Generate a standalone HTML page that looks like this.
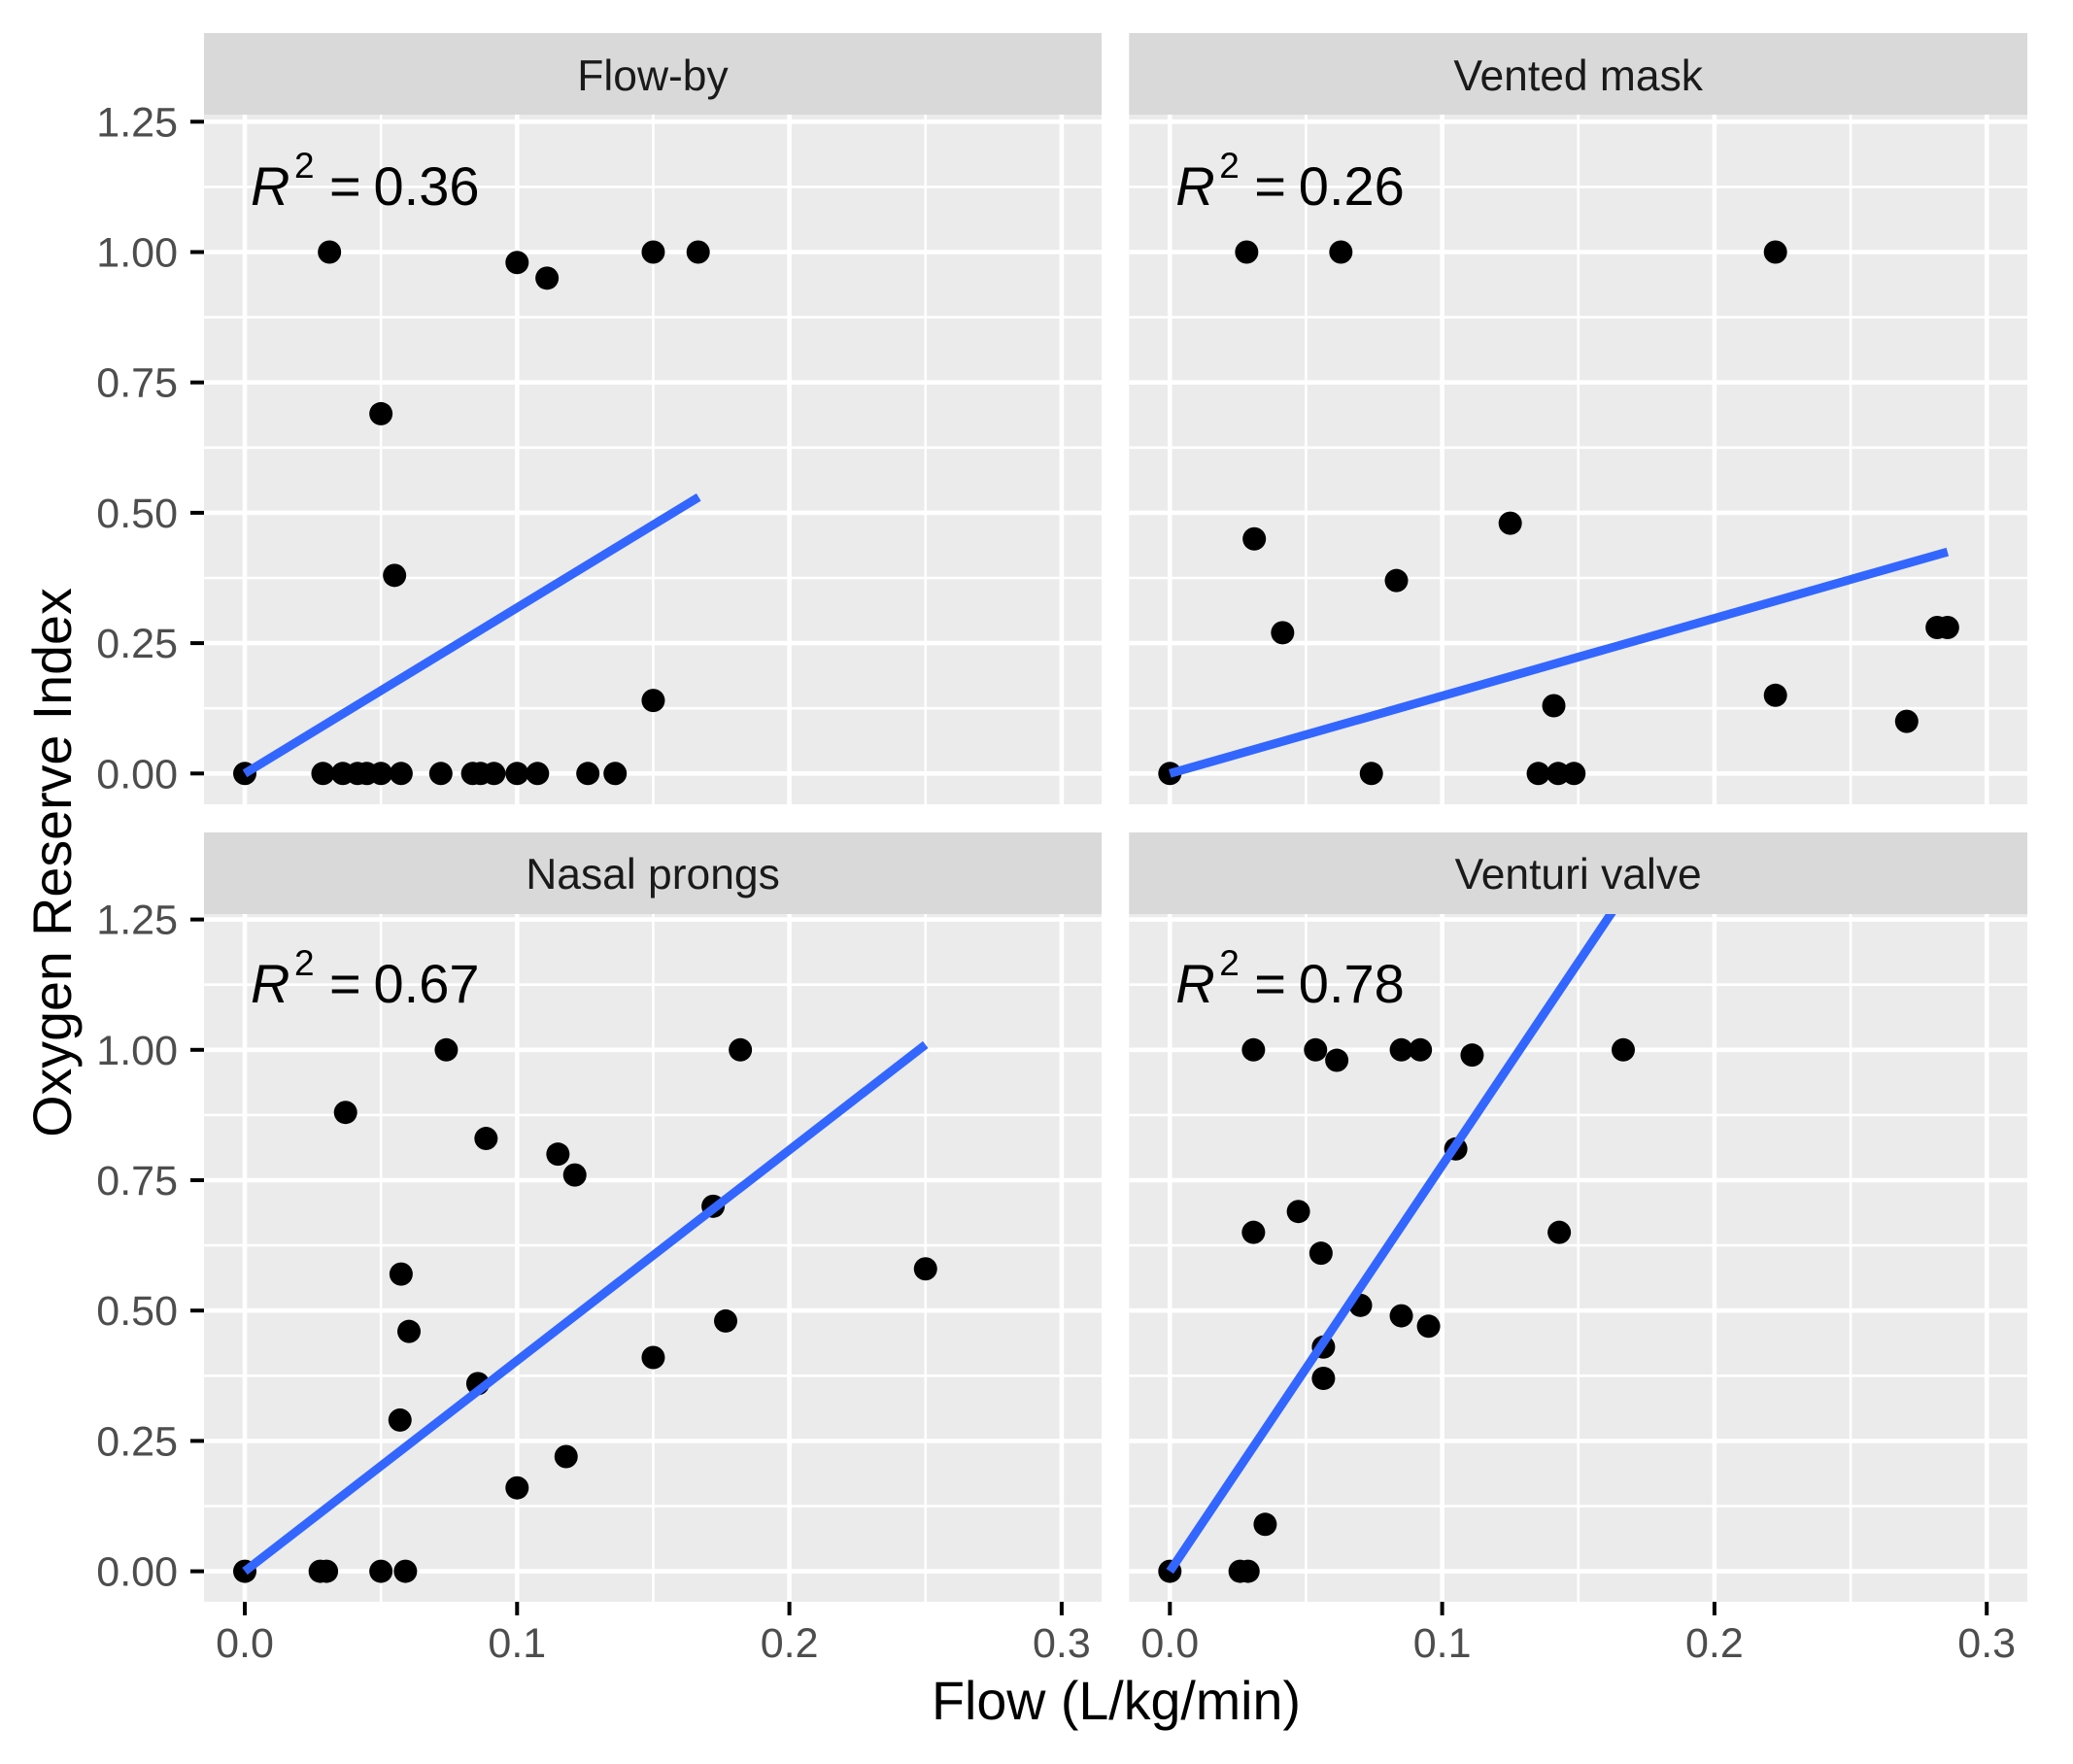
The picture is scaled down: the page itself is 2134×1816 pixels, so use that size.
<!DOCTYPE html>
<html lang="en">
<head>
<meta charset="utf-8">
<title>Oxygen Reserve Index vs Flow</title>
<style>
html,body{margin:0;padding:0;background:#fff;}
#chart{display:block;position:absolute;left:0;top:0;}
text{font-family:"Liberation Sans",Arial,sans-serif;}
</style>
</head>
<body>
<svg id="chart" width="2134" height="1816" viewBox="0 0 2134 1816" xmlns="http://www.w3.org/2000/svg"></svg>
<script>
// ---- Data ----
const panelTitles = ["Flow-by", "Vented mask", "Nasal prongs", "Venturi valve"];
const r2Values = ["0.36", "0.26", "0.67", "0.78"];
const xTickValues = [0, 0.1, 0.2, 0.3];
const xTickLabels = ["0.0", "0.1", "0.2", "0.3"];
const xMinorValues = [0.05, 0.15, 0.25];
const yTickValues = [0, 0.25, 0.5, 0.75, 1, 1.25];
const yTickLabels = ["0.00", "0.25", "0.50", "0.75", "1.00", "1.25"];
const yMinorValues = [0.125, 0.375, 0.625, 0.875, 1.125];

const flowByX = [0, 0.0311, 0.1, 0.111, 0.15, 0.1665, 0.05, 0.055, 0.15, 0.0287, 0.036, 0.0414, 0.0448, 0.05, 0.0574, 0.072, 0.0837, 0.0866, 0.0915, 0.1, 0.1075, 0.126, 0.136];
const flowByY = [0, 1, 0.98, 0.95, 1, 1, 0.69, 0.38, 0.14, 0, 0, 0, 0, 0, 0, 0, 0, 0, 0, 0, 0, 0, 0];
const flowByFitX = [0, 0.1667];
const flowByFitY = [0, 0.53];

const ventedX = [0, 0.0282, 0.0628, 0.2224, 0.031, 0.125, 0.0832, 0.0414, 0.141, 0.2224, 0.2706, 0.2818, 0.2856, 0.074, 0.1353, 0.1426, 0.1484];
const ventedY = [0, 1, 1, 1, 0.45, 0.48, 0.37, 0.27, 0.13, 0.15, 0.10, 0.28, 0.28, 0, 0, 0, 0];
const ventedFitX = [0, 0.2856];
const ventedFitY = [0, 0.425];

const nasalX = [0, 0.074, 0.182, 0.037, 0.0886, 0.115, 0.1212, 0.172, 0.0574, 0.0603, 0.25, 0.1766, 0.15, 0.0856, 0.057, 0.118, 0.1, 0.0277, 0.03, 0.05, 0.059];
const nasalY = [0, 1, 1, 0.88, 0.83, 0.80, 0.76, 0.70, 0.57, 0.46, 0.58, 0.48, 0.41, 0.36, 0.29, 0.22, 0.16, 0, 0, 0, 0];
const nasalFitX = [0, 0.25];
const nasalFitY = [0, 1.01];

const venturiX = [0, 0.0307, 0.0535, 0.0613, 0.085, 0.092, 0.111, 0.1665, 0.105, 0.0472, 0.0307, 0.0555, 0.143, 0.07, 0.085, 0.095, 0.0564, 0.0564, 0.035, 0.0258, 0.0287];
const venturiY = [0, 1, 1, 0.98, 1, 1, 0.99, 1, 0.81, 0.69, 0.65, 0.61, 0.65, 0.51, 0.49, 0.47, 0.43, 0.37, 0.09, 0, 0];
const venturiFitX = [0, 0.167];
const venturiFitY = [0, 1.30];

const seriesX = [flowByX, ventedX, nasalX, venturiX];
const seriesY = [flowByY, ventedY, nasalY, venturiY];
const fitX = [flowByFitX, ventedFitX, nasalFitX, venturiFitX];
const fitY = [flowByFitY, ventedFitY, nasalFitY, venturiFitY];

// ---- Layout ----
const NS = "http://www.w3.org/2000/svg";
const svg = document.getElementById("chart");
const columnLayout = [{left: 210, right: 1134, zero: 252}, {left: 1162.3, right: 2087, zero: 1204.3}];
const rowLayout = [{stripTop: 34, top: 118, bottom: 828, zero: 796.3}, {stripTop: 857, top: 941, bottom: 1649, zero: 1617.6}];
const X_UNIT = 2803;
const Y_UNIT = 536.8;

function xScale(v, col) { return columnLayout[col].zero + v * X_UNIT; }
function yScale(v, row) { return rowLayout[row].zero - v * Y_UNIT; }

function make(tag, attrs, parent) {
  const el = document.createElementNS(NS, tag);
  for (const k in attrs) el.setAttribute(k, attrs[k]);
  (parent || svg).appendChild(el);
  return el;
}

panelTitles.forEach(function (title, i) {
  const col = i % 2;
  const row = Math.floor(i / 2);
  const c = columnLayout[col];
  const r = rowLayout[row];

  const group = make("g", {});
  
  

  const clip = make("clipPath", {id: "clip" + i}, group);
  make("rect", {x: c.left, y: r.top, width: c.right - c.left, height: r.bottom - r.top}, clip);

  const bg = make("rect", {x: c.left, y: r.top, width: c.right - c.left, height: r.bottom - r.top, fill: "#EBEBEB"}, group);
  
  

  const grid = make("g", {"clip-path": "url(#clip" + i + ")", stroke: "#FFFFFF"}, group);
  
  
  yMinorValues.forEach(function (v) {
    make("line", {x1: c.left, x2: c.right, y1: yScale(v, row), y2: yScale(v, row), "stroke-width": 2.6}, grid);
  });
  xMinorValues.forEach(function (v) {
    make("line", {x1: xScale(v, col), x2: xScale(v, col), y1: r.top, y2: r.bottom, "stroke-width": 2.6}, grid);
  });
  yTickValues.forEach(function (v) {
    make("line", {x1: c.left, x2: c.right, y1: yScale(v, row), y2: yScale(v, row), "stroke-width": 4.6}, grid);
  });
  xTickValues.forEach(function (v) {
    make("line", {x1: xScale(v, col), x2: xScale(v, col), y1: r.top, y2: r.bottom, "stroke-width": 4.6}, grid);
  });

  const xs = seriesX[i];
  const ys = seriesY[i];
  const marks = make("g", {"clip-path": "url(#clip" + i + ")"}, group);
  
  
  xs.forEach(function (v, j) {
    const dot = make("circle", {cx: xScale(v, col), cy: yScale(ys[j], row), r: 12, fill: "#000000"}, marks);
    
    
  });

  const fit = make("line", {
    x1: xScale(fitX[i][0], col), y1: yScale(fitY[i][0], row),
    x2: xScale(fitX[i][1], col), y2: yScale(fitY[i][1], row),
    stroke: "#3366FF", "stroke-width": 9, "clip-path": "url(#clip" + i + ")"
  }, group);
  
  

  const strip = make("rect", {x: c.left, y: r.stripTop, width: c.right - c.left, height: r.top - r.stripTop, fill: "#D9D9D9"}, group);
  
  

  const stripLabel = make("text", {x: (c.left + c.right) / 2, y: r.stripTop + 59 - row, "text-anchor": "middle", "font-size": 44.4, fill: "#1A1A1A"}, group);
  stripLabel.textContent = title;
  
  

  // R-squared annotation
  const annY = r.zero - 585.5;
  const annX = c.left + 48;
  const ann = make("g", {fill: "#000000"}, group);
  
  
  const rSym = make("text", {x: annX, y: annY, "font-size": 56, "font-style": "italic"}, ann);
  rSym.textContent = "R";
  const sup = make("text", {x: annX + 45, y: annY - 28, "font-size": 37}, ann);
  sup.textContent = "2";
  const eq = make("text", {x: annX + 81, y: annY, "font-size": 56}, ann);
  eq.textContent = "=";
  const val = make("text", {x: annX + 126.5, y: annY, "font-size": 56}, ann);
  val.textContent = r2Values[i];

  // Y axis on left column
  if (col === 0) {
    yTickValues.forEach(function (v, j) {
      const y = yScale(v, row);
      const tick = make("line", {x1: c.left - 14, x2: c.left, y1: y, y2: y, stroke: "#000000", "stroke-width": 4}, group);
      
      
      const label = make("text", {x: c.left - 27, y: y + 15, "text-anchor": "end", "font-size": 43, fill: "#4D4D4D"}, group);
      label.textContent = yTickLabels[j];
      
      
    });
  }
  // X axis on bottom row
  if (row === 1) {
    xTickValues.forEach(function (v, j) {
      const x = xScale(v, col);
      const tick = make("line", {x1: x, x2: x, y1: r.bottom, y2: r.bottom + 14, stroke: "#000000", "stroke-width": 4}, group);
      
      
      const label = make("text", {x: x, y: 1706, "text-anchor": "middle", "font-size": 43, fill: "#4D4D4D"}, group);
      label.textContent = xTickLabels[j];
      
      
    });
  }
});

const xTitle = make("text", {x: 1152, y: 1770, "text-anchor": "middle", "font-size": 55.6, fill: "#000000", transform: "translate(-3 0)"});
xTitle.textContent = "Flow (L/kg/min)";



const yTitle = make("text", {transform: "translate(73 888) rotate(-90)", "text-anchor": "middle", "font-size": 55.6, fill: "#000000"});
yTitle.textContent = "Oxygen Reserve Index";


</script>
</body>
</html>
